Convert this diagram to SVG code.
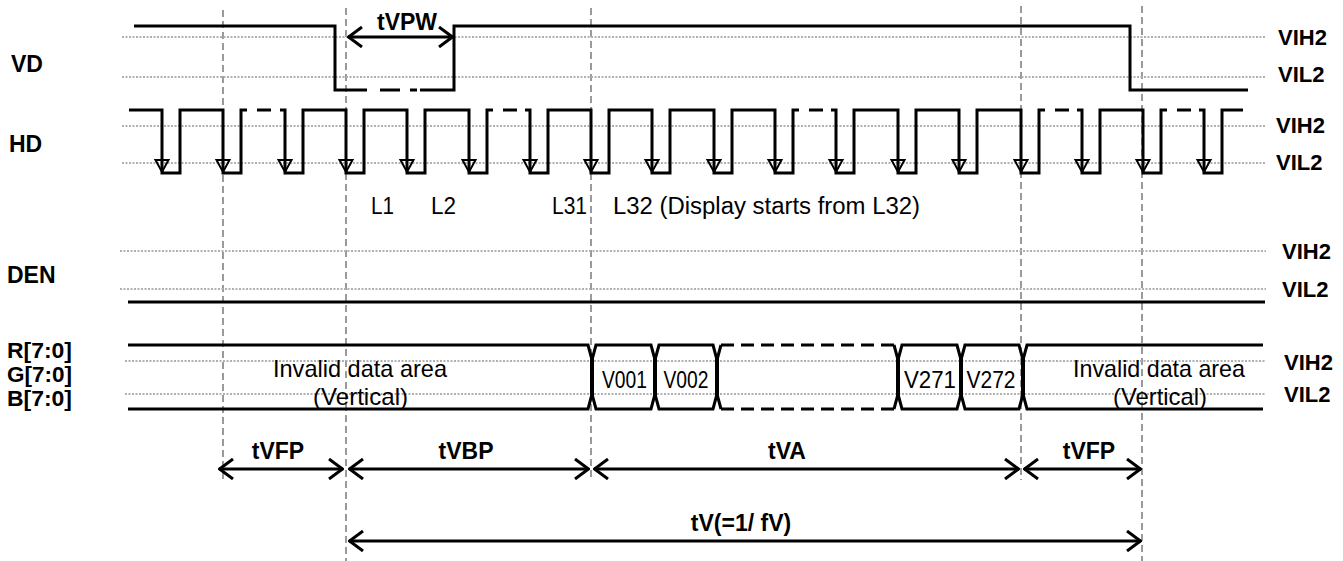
<svg xmlns="http://www.w3.org/2000/svg" xmlns:xlink="http://www.w3.org/1999/xlink" width="1343" height="561" viewBox="0 0 1343 561">
<style>
.sig{fill:none;stroke:#000;stroke-width:3;stroke-linejoin:miter}
.dsh{fill:none;stroke:#000;stroke-width:3;stroke-dasharray:13 7}
.ref{fill:none;stroke:#b0b0b0;stroke-width:2;stroke-dasharray:2 1.5}
.guide{fill:none;stroke:#9a9a9a;stroke-width:2;stroke-dasharray:7 4}
.lbl{font-family:"Liberation Sans",Arial,sans-serif;font-weight:bold;font-size:23px;fill:#000}
.bus{font-family:"Liberation Sans",Arial,sans-serif;font-weight:bold;font-size:21.5px;fill:#000}
.lvl{font-family:"Liberation Sans",Arial,sans-serif;font-weight:bold;font-size:22px;fill:#000}
.tm{font-family:"Liberation Sans",Arial,sans-serif;font-weight:bold;font-size:23px;fill:#000;text-anchor:middle}
.txt{font-family:"Liberation Sans",Arial,sans-serif;font-size:23px;fill:#000}
.dat{font-family:"Liberation Sans",Arial,sans-serif;font-size:24px;fill:#000}
.arr{fill:none;stroke:#000;stroke-width:3;marker-start:url(#ah);marker-end:url(#ah)}
.hda{fill:none;stroke:#000;stroke-width:2}
</style>
<defs>
<marker id="ah" viewBox="0 0 16 22" refX="15" refY="11" markerWidth="16" markerHeight="22" markerUnits="userSpaceOnUse" orient="auto-start-reverse">
<path d="M1,1 L14.5,11 L1,21" fill="none" stroke="#000" stroke-width="3"/>
</marker>
<path id="hdArrow" class="hda" d="M-6.5,160 H6.5 L0,172 Z"/>
</defs>
<rect width="1343" height="561" fill="#fff"/>

<g id="guides">
<line class="guide" x1="223" y1="10" x2="223" y2="482"/>
<line class="guide" x1="346" y1="8" x2="346" y2="561"/>
<line class="guide" x1="591" y1="8" x2="591" y2="480"/>
<line class="guide" x1="1021" y1="6" x2="1021" y2="480"/>
<line class="guide" x1="1142" y1="6" x2="1142" y2="561"/>
</g>

<g id="levels">
<line class="ref" x1="122" y1="37" x2="1266" y2="37"/>
<line class="ref" x1="122" y1="77" x2="1266" y2="77"/>
<line class="ref" x1="122" y1="126" x2="1266" y2="126"/>
<line class="ref" x1="122" y1="163" x2="1266" y2="163"/>
<line class="ref" x1="120" y1="251" x2="1266" y2="251"/>
<line class="ref" x1="120" y1="289" x2="1266" y2="289"/>
<line class="ref" x1="125" y1="361" x2="1266" y2="361"/>
<line class="ref" x1="125" y1="394" x2="1266" y2="394"/>
</g>

<g id="VD">
<text class="lbl" x="11" y="72">VD</text>
<path class="sig" d="M134,26 H335 V90 H367 M380,90 H400 M410,90 H417 M420,90 H454 V26 H1130 V90 H1248"/>
<text class="lvl" x="1278" y="45">VIH2</text>
<text class="lvl" x="1278" y="82">VIL2</text>
</g>

<g id="HD">
<text class="lbl" x="9" y="152">HD</text>
<path class="sig" d="M129,110 H162 V173 H180 V110 H223 V173 H241 V110 H247 M257,110 H271 M280,110 H285 V173 H303 V110 H346 V173 H364 V110 H407 V173 H425 V110 H469 V173 H487 V110 H493 M503,110 H517 M525,110 H530 V173 H548 V110 H591 V173 H609 V110 H652 V173 H670 V110 H714 V173 H732 V110 H775 V173 H793 V110 H799 M809,110 H823 M831,110 H836 V173 H854 V110 H898 V173 H916 V110 H959 V173 H977 V110 H1021 V173 H1039 V110 H1045 M1055,110 H1069 M1077,110 H1082 V173 H1100 V110 H1143 V173 H1161 V110 H1167 M1177,110 H1191 M1199,110 H1204 V173 H1222 V110 H1243"/>
<use xlink:href="#hdArrow" x="162"/><use xlink:href="#hdArrow" x="223"/><use xlink:href="#hdArrow" x="285"/>
<use xlink:href="#hdArrow" x="346"/><use xlink:href="#hdArrow" x="407"/><use xlink:href="#hdArrow" x="469"/>
<use xlink:href="#hdArrow" x="530"/><use xlink:href="#hdArrow" x="591"/><use xlink:href="#hdArrow" x="652"/>
<use xlink:href="#hdArrow" x="714"/><use xlink:href="#hdArrow" x="775"/><use xlink:href="#hdArrow" x="836"/>
<use xlink:href="#hdArrow" x="898"/><use xlink:href="#hdArrow" x="959"/><use xlink:href="#hdArrow" x="1021"/>
<use xlink:href="#hdArrow" x="1082"/><use xlink:href="#hdArrow" x="1143"/><use xlink:href="#hdArrow" x="1204"/>
<text class="lvl" x="1276" y="133">VIH2</text>
<text class="lvl" x="1276" y="170">VIL2</text>
<text class="txt" x="371" y="214" textLength="23" lengthAdjust="spacingAndGlyphs">L1</text>
<text class="txt" x="431" y="214" textLength="25" lengthAdjust="spacingAndGlyphs">L2</text>
<text class="txt" x="552" y="214" textLength="35" lengthAdjust="spacingAndGlyphs">L31</text>
<text class="txt" x="613" y="214" textLength="307" lengthAdjust="spacingAndGlyphs">L32 (Display starts from L32)</text>
</g>

<g id="DEN">
<text class="lbl" x="7" y="283">DEN</text>
<line class="sig" x1="128" y1="302" x2="1265" y2="302"/>
<text class="lvl" x="1282" y="259">VIH2</text>
<text class="lvl" x="1282" y="297">VIL2</text>
</g>

<g id="RGB">
<text class="bus" x="7" y="358" textLength="65" lengthAdjust="spacingAndGlyphs">R[7:0]</text>
<text class="bus" x="7" y="382" textLength="65" lengthAdjust="spacingAndGlyphs">G[7:0]</text>
<text class="bus" x="7" y="406" textLength="65" lengthAdjust="spacingAndGlyphs">B[7:0]</text>
<path class="sig" d="M128,345 H588 L591.5,358 V396 L588,409 H128"/>
<path class="sig" d="M596,345 L592.5,358 V396 L596,409 H651 L654.5,396 V358 L651,345 Z"/>
<path class="sig" d="M659,345 L655.5,358 V396 L659,409 H713 L716.5,396 V358 L713,345 Z"/>
<path class="sig" d="M721,345 L717.5,358 V396 L721,409 M894,345 L897.5,358 V396 L894,409"/>
<path class="dsh" d="M721,345 H894 M721,409 H894"/>
<path class="sig" d="M902,345 L898.5,358 V396 L902,409 H957 L960.5,396 V358 L957,345 Z"/>
<path class="sig" d="M965,345 L961.5,358 V396 L965,409 H1019 L1022.5,396 V358 L1019,345 Z"/>
<path class="sig" d="M1263,345 H1027 L1023.5,358 V396 L1027,409 H1263"/>
<text class="dat" x="624.5" y="388" text-anchor="middle" textLength="45" lengthAdjust="spacingAndGlyphs">V001</text>
<text class="dat" x="686" y="388" text-anchor="middle" textLength="45" lengthAdjust="spacingAndGlyphs">V002</text>
<text class="dat" x="930" y="388" text-anchor="middle" textLength="52" lengthAdjust="spacingAndGlyphs">V271</text>
<text class="dat" x="991" y="388" text-anchor="middle" textLength="49" lengthAdjust="spacingAndGlyphs">V272</text>
<text class="dat" x="273" y="377" textLength="174" lengthAdjust="spacingAndGlyphs">Invalid data area</text>
<text class="dat" x="313" y="405" textLength="95" lengthAdjust="spacingAndGlyphs">(Vertical)</text>
<text class="dat" x="1073" y="377" textLength="172" lengthAdjust="spacingAndGlyphs">Invalid data area</text>
<text class="dat" x="1113" y="405" textLength="94" lengthAdjust="spacingAndGlyphs">(Vertical)</text>
<text class="lvl" x="1284" y="370">VIH2</text>
<text class="lvl" x="1284" y="402">VIL2</text>
</g>

<g id="connectors">
<line class="arr" x1="348" y1="37" x2="453" y2="37"/>
<line class="arr" x1="219" y1="469" x2="343" y2="469"/>
<line class="arr" x1="349" y1="469" x2="589" y2="469"/>
<line class="arr" x1="594" y1="469" x2="1019" y2="469"/>
<line class="arr" x1="1024" y1="469" x2="1141" y2="469"/>
<line class="arr" x1="349" y1="541" x2="1141" y2="541"/>
</g>

<g id="timing-labels">
<text class="tm" x="407" y="30">tVPW</text>
<text class="tm" x="278" y="459">tVFP</text>
<text class="tm" x="466" y="459">tVBP</text>
<text class="tm" x="787" y="459">tVA</text>
<text class="tm" x="1089" y="459">tVFP</text>
<text class="tm" x="741" y="531">tV(=1/ fV)</text>
</g>
</svg>
